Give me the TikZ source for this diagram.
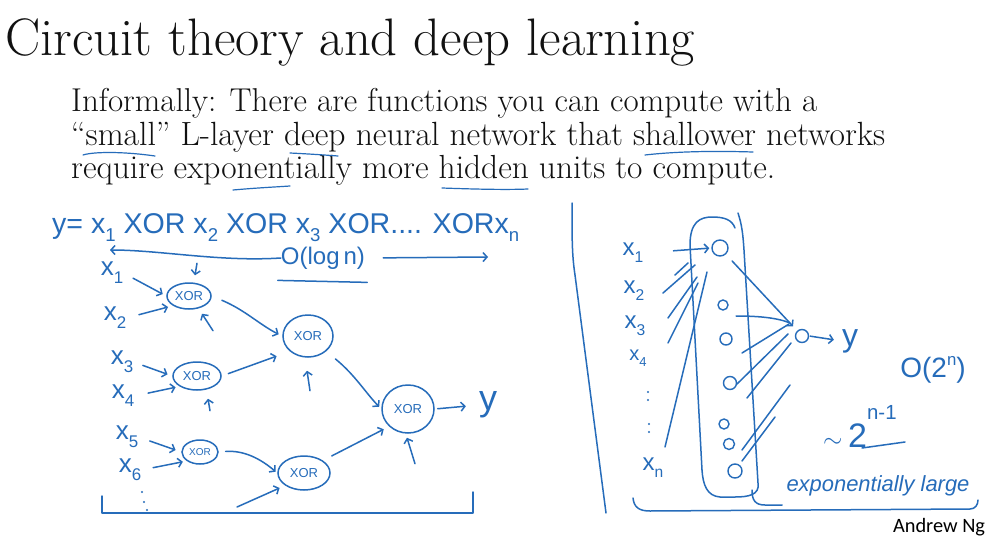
\documentclass[tikz,border=0pt]{standalone}
\usepackage{fontspec}
\usepackage{graphicx}
\usetikzlibrary{arrows.meta,shapes.geometric}
\newfontfamily\handfont{Liberation Sans}
\newfontfamily\ngfont{Carlito}
\definecolor{hand}{RGB}{38,108,186}
\definecolor{ink}{RGB}{17,17,17}
\newcommand\sbs[1]{\raisebox{-0.3em}{\scalebox{0.65}{#1}}}
\newcommand\sps[2]{\raisebox{#1}{\scalebox{0.6}{#2}}}
\begin{document}
\begin{tikzpicture}[x=1pt,y=-1pt,
  pen/.style={draw=hand,line width=1.5pt,line cap=round,line join=round},
  arr/.style={pen,-{Straight Barb[length=4pt,width=9pt]}},
  hw/.style={text=hand,font=\handfont,inner sep=0pt},
  gate/.style={ellipse,draw=hand,line width=1.5pt,inner sep=0pt,text=hand,font=\handfont\fontsize{13}{13}\selectfont},
  unit/.style={circle,draw=hand,line width=1.4pt,inner sep=0pt},
  slide/.style={inner sep=0pt,text=ink,anchor=base west}]
\useasboundingbox (0,0) rectangle (988,538);
\fill[white] (0,0) rectangle (988,538);

% ---- printed text
\node[slide] (title) at (5,55) {\resizebox{690pt}{!}{\fontsize{50}{60}\selectfont Circuit theory and deep learning}};
\node[slide] (l1) at (71,111) {\resizebox{746pt}{!}{\fontsize{26}{30}\selectfont Informally: There are functions you can compute with a}};
\node[slide] (l2) at (71,145) {\resizebox{814pt}{!}{\fontsize{26}{30}\selectfont “small” L-layer deep neural network that shallower networks}};
\node[slide] (l3) at (71,178) {\resizebox{704pt}{!}{\fontsize{26}{30}\selectfont require exponentially more hidden units to compute.}};

% underlines
\draw[hand,line width=1.2pt,line cap=round] (83,155) .. controls (92,152) and (120,151) .. (155,156);
\draw[hand,line width=1.2pt,line cap=round] (290,153) .. controls (310,154) and (325,155) .. (338,156);
\draw[hand,line width=1.2pt,line cap=round] (645,155) .. controls (680,151) and (720,151) .. (753,152);
\draw[hand,line width=1.2pt,line cap=round] (233,190) .. controls (255,188) and (275,187) .. (290,186);
\draw[hand,line width=1.2pt,line cap=round] (442,188) .. controls (470,189) and (505,190) .. (528,189);

% ---- left diagram
\node[hw,anchor=base west] (eq) at (52,233) {\resizebox{467pt}{!}{\fontsize{28}{30}\selectfont y= x\sbs{1} XOR x\sbs{2} XOR x\sbs{3} XOR.... XORx\sbs{n}}};
\node[hw,font=\handfont\fontsize{24}{24}\selectfont] (lg) at (323,258) {O(log\,n)};
\coordinate (la) at (110,250);
\coordinate (ra) at (488,257);
\draw[arr] (lg.west) .. controls (220,262) and (160,250) .. (la);
\draw[arr,shorten <=18pt] (lg.east) -- (ra);
\draw[pen] ([shift={(-3,11)}]lg.south west) -- ([shift={(2,13)}]lg.south east);

\begin{scope}[every node/.style={hw,font=\handfont\fontsize{26}{26}\selectfont}]
\node (lx1) at (112,273) {x\sbs{1}};
\node (lx2) at (115,318) {x\sbs{2}};
\node (lx3) at (122,362) {x\sbs{3}};
\node (lx4) at (123,396) {x\sbs{4}};
\node (lx5) at (127,437) {x\sbs{5}};
\node (lx6) at (130,470) {x\sbs{6}};
\end{scope}
\fill[hand] (142,492) circle (1.2pt) (144,502) circle (1.2pt) (147,510) circle (1.2pt);

\node[gate,minimum width=44pt,minimum height=26pt] (g1) at (189,296) {XOR};
\node[gate,minimum width=48pt,minimum height=28pt] (g2) at (197,376) {XOR};
\node[gate,minimum width=36pt,minimum height=24pt,font=\handfont\fontsize{10}{10}\selectfont] (g3) at (200,452) {XOR};
\node[gate,minimum width=50pt,minimum height=42pt] (g4) at (308,336) {XOR};
\node[gate,minimum width=52pt,minimum height=34pt] (g5) at (304,473) {XOR};
\node[gate,minimum width=52pt,minimum height=48pt] (g6) at (408,409) {XOR};
\node[hw,font=\handfont\fontsize{36}{36}\selectfont] (ly) at (488,405) {y};

\draw[arr,shorten <=11pt,shorten >=4pt] (lx1.east) -- (g1.west);
\draw[arr,shorten <=13pt,shorten >=5pt] (lx2.east) -- (g1.south west);
\draw[arr] ([shift={(8,-19)}]g1.north) -- ([shift={(6,-7)}]g1.north);
\draw[arr] ([shift={(24,21)}]g1.south) -- ([shift={(13,4)}]g1.south);
\draw[arr,shorten <=11pt,shorten >=4pt] (g1.east) .. controls (245,310) and (260,325) .. (g4.west);
\draw[arr,shorten <=10pt,shorten >=5pt] (lx3.east) -- (g2.west);
\draw[arr,shorten <=14pt,shorten >=4pt] (lx4.east) -- (g2.south west);
\draw[arr] ([shift={(13,20)}]g2.south) -- ([shift={(11,8)}]g2.south);
\draw[arr,shorten <=7pt,shorten >=14pt] (g2.east) -- (g4.south west);
\draw[arr] ([shift={(2,33)}]g4.south) -- ([shift={(-1,13)}]g4.south);
\draw[arr,shorten <=12pt,shorten >=3pt] (g4.south east) .. controls (355,375) and (365,392) .. (g6.west);
\draw[arr,shorten <=12pt,shorten >=6pt] (lx5.east) -- (g3.west);
\draw[arr,shorten <=12pt,shorten >=4pt] (lx6.east) -- (g3.south west);
\draw[arr,shorten <=7pt,shorten >=2pt] (g3.east) .. controls (245,450) and (262,460) .. (g5.west);
\coordinate (c5) at (237,507);
\draw[arr,shorten >=6pt] (c5) -- (g5.south west);
\draw[arr,shorten <=10pt,shorten >=6pt] (g5.north east) -- (g6.south west);
\draw[arr] ([shift={(7,30)}]g6.south) -- ([shift={(-1,4)}]g6.south);
\draw[arr,shorten <=3pt,shorten >=13pt] (g6.east) -- (ly.west);

% bracket left
\draw[pen] (102,496) -- (102,513) -- (473,513) -- (473,492);

% divider
\draw[pen] (572,203) .. controls (572,240) and (572,255) .. (575,275) -- (606,513);

% ---- right diagram
\begin{scope}[every node/.style={hw,font=\handfont\fontsize{24}{24}\selectfont}]
\node (rx1) at (633,253) {x\sbs{1}};
\node (rx2) at (634,291) {x\sbs{2}};
\node (rx3) at (635,326) {x\sbs{3}};
\node[font=\handfont\fontsize{20}{20}\selectfont] (rx4) at (638,358) {x\sbs{4}};
\node (rxn) at (653,468) {x\sbs{n}};
\end{scope}
\fill[hand] (648,392) circle (1.2pt) (648,400) circle (1.2pt) (649,424) circle (1.2pt) (649,432) circle (1.2pt);

% box
\draw[pen] (702,470) -- (690,245) .. controls (690,222) and (700,217) .. (712,217) .. controls (725,217) and (732,220) .. (735,228);
\draw[pen] (738,213) .. controls (742,225) and (743,235) .. (744,250) -- (758,483) .. controls (760,495) and (748,497) .. (735,497) -- (720,497) .. controls (707,496) and (703,485) .. (702,470);
\draw[pen] (752,490) .. controls (752,500) and (755,505) .. (765,505) -- (782,505);

\node[unit,minimum size=16pt] (h1) at (720,248) {};
\node[unit,minimum size=10pt] (h2) at (723,305) {};
\node[unit,minimum size=12pt] (h3) at (726,339) {};
\node[unit,minimum size=13pt] (h4) at (730,383) {};
\node[unit,minimum size=10pt] (h5) at (724,424) {};
\node[unit,minimum size=11pt] (h6) at (729,444) {};
\node[unit,minimum size=14pt] (h7) at (735,471) {};
\node[unit,minimum size=13pt] (o) at (802,336) {};
\node[hw,font=\handfont\fontsize{32}{32}\selectfont] (ry) at (850,341) {y};

\draw[arr,shorten <=30pt,shorten >=2pt] (rx1.east) -- (h1.west);
\draw[pen] (675,275) -- (688,263);
\draw[pen] (663,293) -- (695,265);
\draw[pen] (668,318) -- (697,277);
\draw[pen] (668,343) -- (698,283);
\draw[pen] (665,447) -- (707,272);

\draw[arr,shorten <=9pt,shorten >=6pt] (h1) -- (o);
\draw[pen] (736,316) .. controls (760,316) and (778,318) .. (790,323);
\draw[pen] (742,353) -- (789,324);
\draw[pen] (737,384) -- (788,334);
\draw[pen] (747,398) -- (791,343);
\draw[pen] (742,450) -- (790,385);
\draw[pen] (742,461) -- (775,417);
\draw[arr,shorten <=1pt,shorten >=8pt] (o.east) -- (ry.west);

\node[hw,font=\handfont\fontsize{28}{28}\selectfont] (on) at (933,370) {O(2\sps{0.45em}{n})};
\node[hw,anchor=base west,font=\handfont\fontsize{34}{34}\selectfont] (tn) at (823,447) {$\sim$\,2\sps{0.8em}{n-1}};
\draw[pen] (862,448) -- (905,442);
\node[hw] (el) at (878,486) {\resizebox{183pt}{!}{\fontsize{18}{18}\selectfont\itshape exponentially large}};

% bracket right
\draw[pen] (633,498) .. controls (634,508) and (640,511) .. (650,511) -- (970,509) .. controls (975,509) and (978,505) .. (978,500);

\node[inner sep=0pt,text=black] (ng) at (939,527) {\resizebox{92pt}{!}{\ngfont\fontsize{18}{18}\selectfont Andrew Ng}};
\end{tikzpicture}
\end{document}
